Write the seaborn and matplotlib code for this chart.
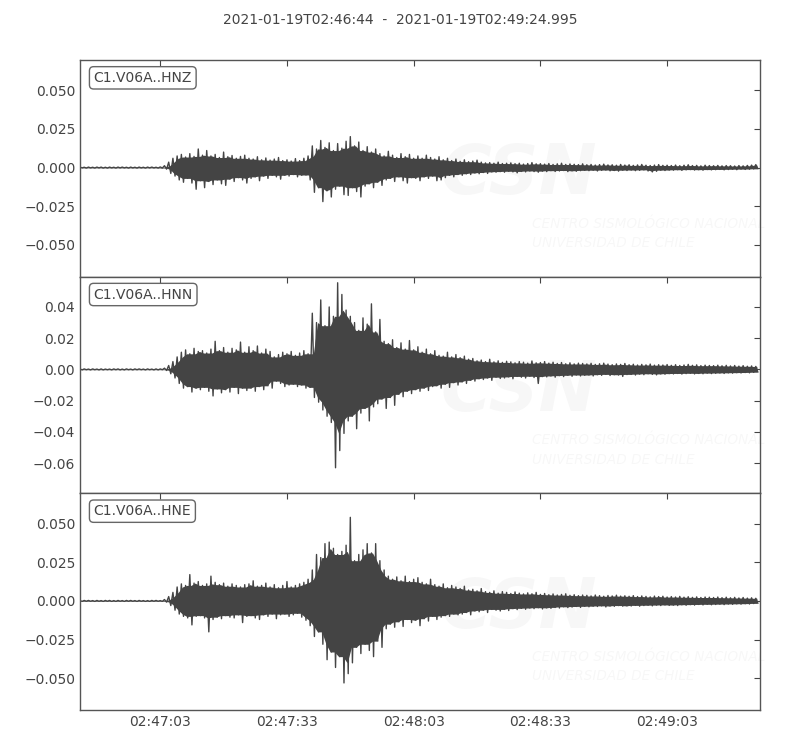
import numpy as np
import pandas as pd
import matplotlib
matplotlib.use("Agg")
import matplotlib.pyplot as plt
from matplotlib.ticker import MultipleLocator
import seaborn as sns

# -----------------------------
# data (amplitudes in units of 1e-3)
# one positive and one negative peak per second, t = 0 .. 160 s after 02:46:44
# -----------------------------
title = "2021-01-19T02:46:44  -  2021-01-19T02:49:24.995"
channels = ["C1.V06A..HNZ", "C1.V06A..HNN", "C1.V06A..HNE"]
seconds = list(range(161))
end_time = 160.995

xtick_pos = [19, 49, 79, 109, 139]
xtick_labels = ["02:47:03", "02:47:33", "02:48:03", "02:48:33", "02:49:03"]

hnz_up = [0.3, 0.2, 0.3, 0.2, 0.3, 0.3, 0.2, 0.3, 0.2, 0.3, 0.3, 0.2, 0.3, 0.2, 0.3, 0.2, 0.3, 0.3, 0.2, 0.4,
          1.2, 3.5, 6.0, 7.5, 8.5, 6.8, 9.0, 7.2, 12.0, 8.0,
          11.0, 7.5, 8.5, 6.5, 10.0, 7.0, 7.8, 6.0, 7.2, 8.0,
          6.0, 5.5, 7.0, 5.0, 6.2, 4.8, 5.5, 6.5, 4.5, 5.0,
          4.2, 5.8, 4.5, 6.0, 7.5, 14.0, 12.0, 17.5, 13.0, 16.0,
          11.0, 15.5, 12.5, 17.0, 20.0, 14.0, 16.5, 11.0, 13.5, 10.0,
          12.0, 9.0, 7.5, 10.5, 8.0, 6.5, 9.0, 7.0, 8.5, 6.0,
          7.5, 6.0, 8.0, 6.5, 5.5, 7.0, 5.0, 6.0, 4.5, 5.5,
          4.0, 5.0, 3.8, 4.2, 4.8, 3.5, 3.0, 3.2, 2.8, 3.5,
          2.6, 2.8, 3.0, 2.5, 2.8, 2.2, 2.6, 3.2, 2.4, 2.5,
          2.2, 2.6, 2.0, 2.4, 2.8, 2.0, 2.3, 2.1, 1.9, 2.4,
          1.8, 2.0, 1.6, 1.9, 2.2, 1.7, 1.8, 1.5, 2.0, 1.6,
          1.8, 1.4, 1.7, 2.0, 1.5, 1.3, 1.6, 1.9, 1.4, 1.5,
          1.3, 1.6, 1.2, 1.5, 1.8, 1.3, 1.4, 1.1, 1.5, 1.3,
          1.2, 1.4, 1.1, 1.3, 1.2, 1.0, 1.3, 1.1, 1.4, 1.6, 1.9]
hnz_lo = [-0.2, -0.3, -0.2, -0.3, -0.2, -0.3, -0.3, -0.2, -0.3, -0.2, -0.2, -0.3, -0.2, -0.3, -0.2, -0.3, -0.2, -0.2, -0.3, -0.3,
          -1.0, -3.8, -5.5, -8.0, -9.5, -7.0, -10.0, -14.0, -8.5, -13.0,
          -9.0, -11.0, -8.0, -10.5, -11.5, -7.5, -9.0, -6.5, -8.0, -10.0,
          -7.0, -6.0, -8.5, -5.5, -7.0, -5.0, -6.0, -7.5, -5.0, -5.5,
          -4.5, -6.0, -5.0, -4.8, -8.0, -16.0, -13.0, -22.0, -15.0, -19.0,
          -14.0, -12.0, -17.5, -18.0, -13.0, -15.5, -19.0, -12.0, -10.5, -13.0,
          -9.5, -11.5, -8.0, -7.0, -9.0, -6.0, -8.5, -10.0, -6.5, -7.0,
          -8.5, -6.0, -7.0, -5.5, -8.5, -8.0, -6.5, -5.0, -6.0, -4.5,
          -5.0, -4.0, -4.5, -3.5, -4.0, -3.2, -3.8, -2.8, -3.0, -2.6,
          -3.0, -2.4, -2.8, -3.4, -2.5, -2.8, -2.2, -2.6, -3.0, -2.3,
          -2.6, -2.0, -2.5, -2.2, -1.9, -2.6, -2.1, -2.4, -2.0, -1.8,
          -2.0, -1.7, -2.2, -1.8, -1.6, -2.1, -1.9, -2.3, -1.7, -1.9,
          -1.6, -2.0, -1.8, -1.5, -2.2, -2.8, -2.4, -1.7, -1.9, -1.6,
          -1.7, -1.4, -1.8, -1.5, -1.3, -1.6, -1.4, -1.7, -1.3, -1.5,
          -1.4, -1.2, -1.5, -1.3, -1.1, -1.4, -1.0, -1.2, -1.1, -0.9, -0.8]

hnn_up = [0.3, 0.3, 0.2, 0.3, 0.2, 0.3, 0.2, 0.2, 0.3, 0.3, 0.2, 0.3, 0.2, 0.3, 0.3, 0.2, 0.3, 0.2, 0.3, 0.3,
          0.8, 2.5, 5.0, 8.0, 11.0, 12.5, 10.0, 13.5, 11.5, 12.0,
          10.5, 13.0, 18.0, 12.0, 14.0, 11.0, 13.5, 12.5, 17.5, 11.0,
          14.5, 12.0, 15.0, 10.5, 13.0, 11.5, 8.0, 9.5, 11.0, 10.0,
          11.5, 9.0, 10.5, 12.0, 10.0, 36.0, 30.0, 44.5, 28.0, 40.0,
          34.0, 55.5, 48.0, 38.0, 34.0, 30.0, 25.0, 33.0, 29.0, 42.0,
          24.0, 32.0, 18.0, 16.5, 19.0, 14.0, 17.0, 13.0, 18.5, 12.5,
          14.5, 11.0, 13.0, 10.0, 12.0, 9.0, 8.5, 11.0, 8.0, 9.5,
          7.5, 8.5, 6.5, 7.0, 5.5, 6.0, 5.0, 6.5, 4.8, 5.5,
          4.5, 5.2, 4.8, 4.2, 5.0, 4.6, 4.0, 5.4, 4.2, 4.4,
          5.0, 4.0, 4.6, 3.8, 4.4, 3.6, 4.2, 3.5, 4.0, 3.8,
          3.5, 3.9, 3.2, 3.6, 4.0, 3.4, 3.0, 3.5, 3.2, 3.8,
          3.0, 3.3, 2.8, 3.2, 2.9, 3.4, 2.7, 3.0, 2.8, 3.1,
          2.6, 3.0, 2.5, 2.8, 3.2, 2.6, 2.9, 2.4, 2.7, 2.5,
          2.4, 2.7, 2.3, 2.6, 2.2, 2.5, 2.1, 2.4, 2.0, 2.2, 1.9]
hnn_lo = [-0.3, -0.2, -0.3, -0.2, -0.3, -0.3, -0.2, -0.3, -0.2, -0.3, -0.3, -0.2, -0.3, -0.2, -0.2, -0.3, -0.2, -0.3, -0.3, -0.2,
          -0.7, -2.8, -5.5, -9.0, -12.0, -11.0, -14.5, -12.0, -13.0, -11.5,
          -14.0, -17.0, -12.5, -15.0, -13.0, -14.5, -11.5, -15.5, -12.0, -13.5,
          -12.0, -14.0, -11.0, -13.0, -10.5, -12.0, -7.5, -9.0, -11.0, -10.0,
          -9.5, -11.0, -10.0, -12.0, -11.5, -18.0, -21.0, -26.0, -30.0, -34.0,
          -63.0, -52.0, -41.0, -33.0, -30.0, -38.0, -28.0, -25.0, -33.0, -24.0,
          -22.0, -19.0, -25.0, -18.0, -23.0, -16.0, -17.5, -14.0, -15.5, -13.0,
          -14.0, -12.0, -13.5, -11.0, -10.5, -12.0, -9.5, -11.5, -8.5, -10.0,
          -8.0, -9.0, -7.0, -7.5, -6.0, -6.5, -5.5, -7.0, -5.0, -5.8,
          -5.5, -4.8, -6.0, -4.5, -5.0, -5.5, -4.4, -5.2, -9.0, -4.6,
          -4.8, -4.2, -5.0, -4.0, -4.6, -3.8, -4.4, -3.6, -4.2, -3.8,
          -3.6, -4.2, -3.4, -3.8, -3.2, -3.9, -3.4, -3.6, -4.5, -3.3,
          -3.2, -3.6, -3.0, -3.4, -2.8, -3.2, -3.5, -2.9, -3.1, -2.7,
          -2.9, -2.6, -3.0, -2.7, -2.5, -2.9, -2.6, -2.8, -2.4, -2.7,
          -2.5, -2.3, -2.6, -2.2, -2.4, -2.1, -2.3, -2.0, -2.2, -1.9, -1.8]

hne_up = [0.2, 0.3, 0.3, 0.2, 0.3, 0.2, 0.3, 0.3, 0.2, 0.3, 0.2, 0.3, 0.3, 0.2, 0.3, 0.2, 0.2, 0.3, 0.3, 0.2,
          0.9, 2.8, 5.5, 9.0, 11.0, 10.0, 17.0, 11.5, 12.5, 10.0,
          11.0, 16.0, 12.0, 10.5, 11.5, 9.5, 11.0, 10.0, 9.0, 10.5,
          11.0, 13.0, 9.5, 10.0, 11.5, 9.0, 10.5, 8.5, 10.0, 12.5,
          9.0, 10.0, 11.0, 12.0, 14.0, 20.0, 30.0, 28.0, 37.0, 38.0,
          34.0, 30.0, 32.0, 36.0, 54.0, 26.0, 30.0, 33.0, 37.0, 31.0,
          37.0, 26.0, 20.0, 16.0, 14.0, 15.5, 13.0, 16.0, 12.5, 14.0,
          15.0, 12.0, 11.0, 14.0, 10.5, 9.5, 11.0, 8.5, 10.0, 9.0,
          8.0, 9.5, 7.0, 7.5, 6.5, 8.0, 6.0, 5.5, 6.5, 5.0,
          6.0, 5.5, 4.8, 5.8, 5.0, 4.5, 5.2, 4.6, 5.5, 4.2,
          4.8, 4.0, 4.5, 3.8, 4.2, 4.6, 3.6, 4.0, 3.4, 3.8,
          3.6, 3.2, 3.8, 3.4, 3.0, 3.5, 3.2, 3.7, 3.1, 3.3,
          3.0, 3.4, 2.8, 3.2, 2.9, 2.6, 3.1, 2.8, 3.0, 2.5,
          2.8, 2.5, 2.9, 2.4, 2.7, 2.3, 2.6, 2.2, 2.5, 2.4,
          2.2, 2.5, 2.1, 2.4, 2.0, 2.3, 1.9, 2.2, 1.8, 2.0, 1.7]
hne_lo = [-0.3, -0.2, -0.2, -0.3, -0.2, -0.3, -0.2, -0.3, -0.3, -0.2, -0.3, -0.2, -0.2, -0.3, -0.2, -0.3, -0.3, -0.2, -0.2, -0.3,
          -0.8, -3.0, -6.0, -8.5, -10.0, -11.0, -15.5, -10.0, -9.5, -11.0,
          -20.0, -12.0, -10.5, -11.5, -9.5, -10.5, -11.0, -9.0, -14.0, -10.0,
          -9.5, -11.0, -12.0, -9.0, -10.0, -8.5, -11.5, -9.0, -8.5, -10.0,
          -9.0, -8.0, -10.5, -12.5, -16.0, -23.0, -20.0, -28.0, -38.0, -33.0,
          -43.0, -36.0, -53.0, -47.0, -40.0, -30.0, -34.0, -28.0, -32.0, -36.0,
          -26.0, -30.0, -18.0, -15.0, -17.0, -13.5, -16.5, -12.0, -14.0, -12.5,
          -16.0, -11.5, -13.0, -10.0, -12.0, -10.5, -9.5, -10.0, -8.5, -9.0,
          -8.5, -7.5, -9.0, -6.5, -7.0, -6.0, -7.5, -5.5, -6.0, -6.5,
          -5.5, -6.2, -5.0, -5.6, -4.8, -5.4, -4.6, -5.0, -4.4, -5.2,
          -4.5, -4.8, -4.2, -4.6, -3.8, -4.3, -4.0, -3.6, -4.2, -3.5,
          -3.8, -3.4, -3.6, -3.2, -3.9, -3.3, -3.5, -3.0, -3.4, -3.2,
          -3.3, -2.9, -3.4, -3.0, -2.8, -3.2, -2.7, -3.0, -2.6, -2.9,
          -2.7, -3.0, -2.5, -2.8, -2.4, -2.7, -2.3, -2.6, -2.2, -2.5,
          -2.3, -2.1, -2.4, -2.0, -2.2, -1.9, -2.1, -1.8, -2.0, -1.7, -1.6]

ylims = [(-0.0705, 0.0695), (-0.0794, 0.0594), (-0.0705, 0.0695)]
ytick_steps = [0.025, 0.02, 0.025]
ytick_formats = ["%.3f", "%.2f", "%.3f"]

# -----------------------------
# tables: peaks per second, and the zigzag trace (positive peak at t, negative at t + 0.5)
# -----------------------------
rows, zig = [], []
for name, up, lo in zip(channels, [hnz_up, hnn_up, hne_up], [hnz_lo, hnn_lo, hne_lo]):
    for t, a, b in zip(seconds, up, lo):
        rows.append((name, t, a * 1e-3, b * 1e-3))
        zig.append((name, t, a * 1e-3))
        zig.append((name, t + 0.5, b * 1e-3))
peaks = pd.DataFrame(rows, columns=["channel", "time", "up", "lo"])
trace = pd.DataFrame(zig, columns=["channel", "time", "amp"])

sns.set_style("white")
plt.rcParams["font.family"] = ["DejaVu Sans"]
grey = "#444444"
wm_font = ["Liberation Sans Narrow", "DejaVu Sans"]

fig, axes = plt.subplots(3, 1, figsize=(8, 7.5), dpi=100, sharex=True)
fig.subplots_adjust(left=0.1, right=0.95, top=0.92, bottom=0.0533, hspace=0)

for ax, name, ylim, step, fmt in zip(axes, channels, ylims, ytick_steps, ytick_formats):
    # faint CSN watermark
    ax.text(0.645, 0.47, "CSN", transform=ax.transAxes, ha="center", va="center",
            fontsize=50, fontweight="bold", fontstyle="italic",
            family=wm_font, color="black", alpha=0.03, zorder=0)
    ax.text(0.665, 0.245, "CENTRO SISMOLÓGICO NACIONAL", transform=ax.transAxes, ha="left", va="center",
            fontsize=9.8, fontstyle="italic", family=wm_font, color="black", alpha=0.03, zorder=0)
    ax.text(0.665, 0.155, "UNIVERSIDAD DE CHILE", transform=ax.transAxes, ha="left", va="center",
            fontsize=9.8, fontstyle="italic", family=wm_font, color="black", alpha=0.03, zorder=0)

    # solid core of the trace: the band that neighbouring peaks all reach
    p = peaks[peaks["channel"] == name]
    core_up = p["up"].rolling(3, center=True, min_periods=1).min()
    core_lo = p["lo"].rolling(3, center=True, min_periods=1).max()
    ax.fill_between(p["time"] + 0.25, core_lo, core_up, color=grey, lw=0, zorder=1)

    sns.lineplot(data=trace[trace["channel"] == name], x="time", y="amp", ax=ax,
                 sort=False, estimator=None, color=grey, linewidth=1.0, zorder=2)
    ax.set_ylim(*ylim)
    ax.set_xlim(0, end_time)
    ax.set_xlabel("")
    ax.set_ylabel("")
    ax.yaxis.set_major_locator(MultipleLocator(step))
    ticks = [v for v in ax.get_yticks() if ylim[0] <= v <= ylim[1]]
    ax.set_yticks(ticks)
    ax.set_yticklabels([(fmt % v).replace("-", "\u2212") for v in ticks])
    ax.tick_params(direction="in", top=True, right=True, length=4.5, width=0.8,
                   colors=grey, labelsize=10, labelcolor=grey)
    for sp in ax.spines.values():
        sp.set_color("#555555")
        sp.set_linewidth(1.0)
    ax.text(0.02, 0.95, name, transform=ax.transAxes, ha="left", va="top",
            fontsize=10, color=grey,
            bbox=dict(boxstyle="round,pad=0.3", fc="white", ec="#666666", lw=1.0), zorder=5)

axes[-1].set_xticks(xtick_pos)
axes[-1].set_xticklabels(xtick_labels)

fig.suptitle(title, y=0.973, va="center", fontsize=10, color=grey)

plt.savefig("out.png", dpi=100)
